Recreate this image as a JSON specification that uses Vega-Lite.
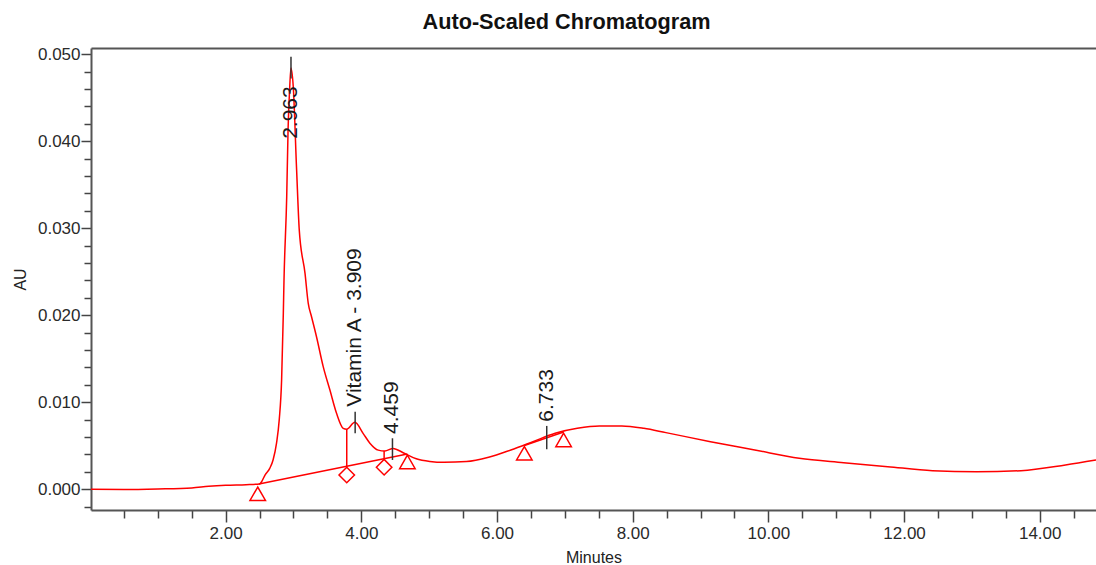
{
  "$schema": "https://vega.github.io/schema/vega-lite/v6.json",
  "width": 1005,
  "height": 462,
  "autosize": {"type": "none"},
  "padding": {"left": 91, "top": 48, "right": 0, "bottom": 55},
  "background": "white",
  "config": {
    "view": {"stroke": null},
    "axis": {
      "grid": false,
      "domainColor": "#555555",
      "domainWidth": 2,
      "tickColor": "#444444",
      "tickWidth": 1.5,
      "labelFont": "Liberation Sans",
      "labelFontSize": 17,
      "labelColor": "#2a2a2a",
      "titleFont": "Liberation Sans",
      "titleFontSize": 16,
      "titleFontWeight": "normal",
      "titleColor": "#222222",
      "labelOverlap": false,
      "labelFlush": false
    }
  },
  "title": {
    "text": "Auto-Scaled Chromatogram",
    "font": "Liberation Sans",
    "fontSize": 21.7,
    "fontWeight": "bold",
    "color": "#111111",
    "anchor": "middle",
    "frame": "group",
    "baseline": "alphabetic",
    "offset": -6,
    "dx": -27
  },
  "datasets": {
    "curve": [
      {"t": 0.015, "v": 0.0},
      {"t": 0.5, "v": -0.00003},
      {"t": 1.0, "v": 0.00003},
      {"t": 1.5, "v": 0.00015},
      {"t": 1.75, "v": 0.00034},
      {"t": 2.0, "v": 0.00046},
      {"t": 2.3, "v": 0.00053},
      {"t": 2.5, "v": 0.00061},
      {"t": 2.53, "v": 0.00087},
      {"t": 2.58, "v": 0.00164},
      {"t": 2.65, "v": 0.0024},
      {"t": 2.7, "v": 0.0034},
      {"t": 2.75, "v": 0.0053},
      {"t": 2.79, "v": 0.008},
      {"t": 2.825, "v": 0.0126},
      {"t": 2.85, "v": 0.0202},
      {"t": 2.86, "v": 0.024},
      {"t": 2.9, "v": 0.0336},
      {"t": 2.92, "v": 0.0413},
      {"t": 2.945, "v": 0.0463},
      {"t": 2.963, "v": 0.0484},
      {"t": 2.996, "v": 0.0463},
      {"t": 3.046, "v": 0.0367},
      {"t": 3.085, "v": 0.0298},
      {"t": 3.17, "v": 0.0248},
      {"t": 3.217, "v": 0.0214},
      {"t": 3.267, "v": 0.0198},
      {"t": 3.34, "v": 0.0175},
      {"t": 3.438, "v": 0.0141},
      {"t": 3.537, "v": 0.0114},
      {"t": 3.636, "v": 0.0087},
      {"t": 3.733, "v": 0.007},
      {"t": 3.783, "v": 0.0069},
      {"t": 3.905, "v": 0.0077},
      {"t": 4.028, "v": 0.0064},
      {"t": 4.126, "v": 0.0053},
      {"t": 4.249, "v": 0.0045},
      {"t": 4.347, "v": 0.0044},
      {"t": 4.47, "v": 0.0047},
      {"t": 4.617, "v": 0.0042},
      {"t": 4.81, "v": 0.0035},
      {"t": 5.01, "v": 0.0032},
      {"t": 5.22, "v": 0.0031},
      {"t": 5.55, "v": 0.00318},
      {"t": 5.877, "v": 0.00368},
      {"t": 6.204, "v": 0.00452},
      {"t": 6.53, "v": 0.00547},
      {"t": 6.857, "v": 0.00644},
      {"t": 7.184, "v": 0.00701},
      {"t": 7.51, "v": 0.00728},
      {"t": 7.84, "v": 0.00728},
      {"t": 8.165, "v": 0.00701},
      {"t": 8.49, "v": 0.00651},
      {"t": 9.147, "v": 0.00547},
      {"t": 9.8, "v": 0.00452},
      {"t": 10.455, "v": 0.00356},
      {"t": 11.11, "v": 0.00306},
      {"t": 11.76, "v": 0.0026},
      {"t": 12.42, "v": 0.00214},
      {"t": 13.07, "v": 0.00202},
      {"t": 13.725, "v": 0.00214},
      {"t": 14.38, "v": 0.0028},
      {"t": 14.83, "v": 0.00337}
    ],
    "baselines": [
      {"seg": "A", "t": 2.49, "v": 0.0006},
      {"seg": "A", "t": 4.679, "v": 0.00406},
      {"seg": "B", "t": 6.403, "v": 0.00503},
      {"seg": "B", "t": 6.982, "v": 0.00659}
    ],
    "drops": [
      {"t": 3.785, "v": 0.0069, "v2": 0.0026},
      {"t": 4.336, "v": 0.0044, "v2": 0.0035}
    ],
    "markers": [
      {"t": 2.473, "v": -0.00051, "shape": "triangle-up"},
      {"t": 4.679, "v": 0.00314, "shape": "triangle-up"},
      {"t": 6.403, "v": 0.00414, "shape": "triangle-up"},
      {"t": 6.982, "v": 0.00567, "shape": "triangle-up"},
      {"t": 3.785, "v": 0.00164, "shape": "diamond"},
      {"t": 4.336, "v": 0.00254, "shape": "diamond"}
    ],
    "peakTicks": [
      {"t": 2.963, "v": 0.0472, "v2": 0.0497},
      {"t": 3.909, "v": 0.00644, "v2": 0.00892},
      {"t": 4.459, "v": 0.00337, "v2": 0.00586},
      {"t": 6.733, "v": 0.0046, "v2": 0.00728}
    ],
    "labelsDown": [
      {"t": 2.963, "v": 0.0463, "label": "2.963"}
    ],
    "labelsUp": [
      {"t": 3.909, "v": 0.00949, "label": "Vitamin A - 3.909"},
      {"t": 4.459, "v": 0.00636, "label": "4.459"},
      {"t": 6.733, "v": 0.00777, "label": "6.733"}
    ]
  },
  "resolve": {"axis": {"x": "independent"}},
  "layer": [
    {
      "data": {"name": "curve"},
      "mark": {"type": "line", "color": "#ff0000", "strokeWidth": 1.5, "interpolate": "monotone", "clip": true},
      "encoding": {
        "x": {
          "field": "t", "type": "quantitative",
          "scale": {"domain": [0.015, 14.83], "nice": false, "zero": false},
          "axis": {
            "orient": "bottom",
            "title": "Minutes",
            "values": [0.5, 1, 1.5, 2, 2.5, 3, 3.5, 4, 4.5, 5, 5.5, 6, 6.5, 7, 7.5, 8, 8.5, 9, 9.5, 10, 10.5, 11, 11.5, 12, 12.5, 13, 13.5, 14, 14.5],
            "tickCount": 200,
            "labelExpr": "datum.value % 2 == 0 ? format(datum.value, '.2f') : ''",
            "tickSize": {"condition": {"test": "datum.value % 2 == 0", "value": 12}, "value": 8},
            "labelOverlap": false,
            "labelPadding": 3,
            "titlePadding": 8
          }
        },
        "y": {
          "field": "v", "type": "quantitative",
          "scale": {"domain": [-0.00238, 0.0507], "nice": false, "zero": false},
          "axis": {
            "title": "AU",
            "values": [-0.002, 0, 0.002, 0.004, 0.006, 0.008, 0.01, 0.012, 0.014, 0.016, 0.018, 0.02, 0.022, 0.024, 0.026, 0.028, 0.03, 0.032, 0.034, 0.036, 0.038, 0.04, 0.042, 0.044, 0.046, 0.048, 0.05],
            "tickCount": 200,
            "labelExpr": "abs(datum.value*100 - round(datum.value*100)) < 1e-6 ? format(datum.value, '.3f') : ''",
            "tickSize": {"condition": {"test": "abs(datum.value*100 - round(datum.value*100)) < 1e-6", "value": 10}, "value": 7},
            "labelOverlap": false,
            "labelPadding": 1,
            "titlePadding": 9
          }
        }
      }
    },
    {
      "data": {"name": "baselines"},
      "mark": {"type": "line", "color": "#ff0000", "strokeWidth": 1.5},
      "encoding": {
        "x": {"field": "t", "type": "quantitative", "axis": {"orient": "top", "labels": false, "ticks": false, "title": null, "domain": true}},
        "y": {"field": "v", "type": "quantitative"},
        "detail": {"field": "seg"}
      }
    },
    {
      "data": {"name": "drops"},
      "mark": {"type": "rule", "color": "#ff0000", "strokeWidth": 1.5},
      "encoding": {
        "x": {"field": "t", "type": "quantitative", "axis": null},
        "y": {"field": "v", "type": "quantitative"},
        "y2": {"field": "v2"}
      }
    },
    {
      "data": {"name": "peakTicks"},
      "mark": {"type": "rule", "color": "#333333", "strokeWidth": 1.5},
      "encoding": {
        "x": {"field": "t", "type": "quantitative", "axis": null},
        "y": {"field": "v", "type": "quantitative"},
        "y2": {"field": "v2"}
      }
    },
    {
      "data": {"name": "markers"},
      "mark": {"type": "point", "filled": false, "color": "#ff0000", "strokeWidth": 1.5, "size": 240, "opacity": 1},
      "encoding": {
        "x": {"field": "t", "type": "quantitative", "axis": null},
        "y": {"field": "v", "type": "quantitative"},
        "shape": {"field": "shape", "type": "nominal", "scale": null, "legend": null}
      }
    },
    {
      "data": {"name": "labelsDown"},
      "mark": {"type": "text", "angle": 270, "align": "right", "baseline": "middle", "font": "Liberation Sans", "fontSize": 21, "color": "#1a1a1a"},
      "encoding": {
        "x": {"field": "t", "type": "quantitative", "axis": null},
        "y": {"field": "v", "type": "quantitative"},
        "text": {"field": "label"}
      }
    },
    {
      "data": {"name": "labelsUp"},
      "mark": {"type": "text", "angle": 270, "align": "left", "baseline": "middle", "font": "Liberation Sans", "fontSize": 21, "color": "#1a1a1a"},
      "encoding": {
        "x": {"field": "t", "type": "quantitative", "axis": null},
        "y": {"field": "v", "type": "quantitative"},
        "text": {"field": "label"}
      }
    }
  ]
}
